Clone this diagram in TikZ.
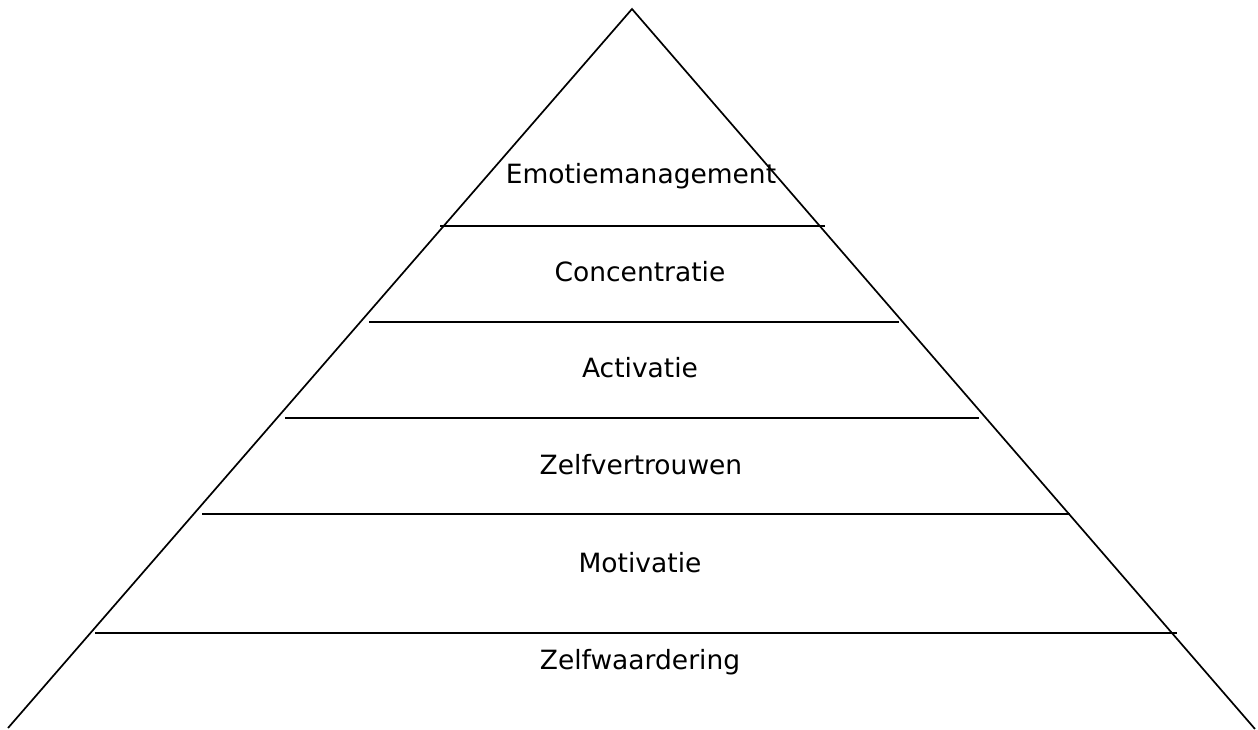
\documentclass[tikz,border=0pt]{standalone}
\usepackage{fontspec}
\setmainfont{DejaVu Sans}
\begin{document}
\begin{tikzpicture}[x=1pt, y=-1pt, line width=1.7pt, level/.style={font=\fontsize{26.5}{31}\selectfont}]
\useasboundingbox (0,0) rectangle (1258,729);
% outline of the pyramid
\coordinate (top) at (632,9);
\coordinate (bl) at (8,728);
\coordinate (br) at (1255,729);
\draw (bl) -- (top) -- (br);
% dividing lines between the levels
\coordinate (l1a) at (440,226); \coordinate (l1b) at (825,226);
\coordinate (l2a) at (369,322); \coordinate (l2b) at (899,322);
\coordinate (l3a) at (285,418); \coordinate (l3b) at (979,418);
\coordinate (l4a) at (202,514); \coordinate (l4b) at (1070,514);
\coordinate (l5a) at (95,633);  \coordinate (l5b) at (1177,633);
\path
	(l1a) edge (l1b)
	(l2a) edge (l2b)
	(l3a) edge (l3b)
	(l4a) edge (l4b)
	(l5a) edge (l5b)
	;
% level names
\begin{scope}[every node/.style={level}]
\node (emotie) at (641,176) {Emotiemanagement};
\node (concentratie) at (640,272) {Concentratie};
\node (activatie) at (640,368) {Activatie};
\node (zelfvertrouwen) at (641,465) {Zelfvertrouwen};
\node (motivatie) at (640,563) {Motivatie};
\node (zelfwaardering) at (640,662) {Zelfwaardering};
\end{scope}
\end{tikzpicture}
\end{document}
